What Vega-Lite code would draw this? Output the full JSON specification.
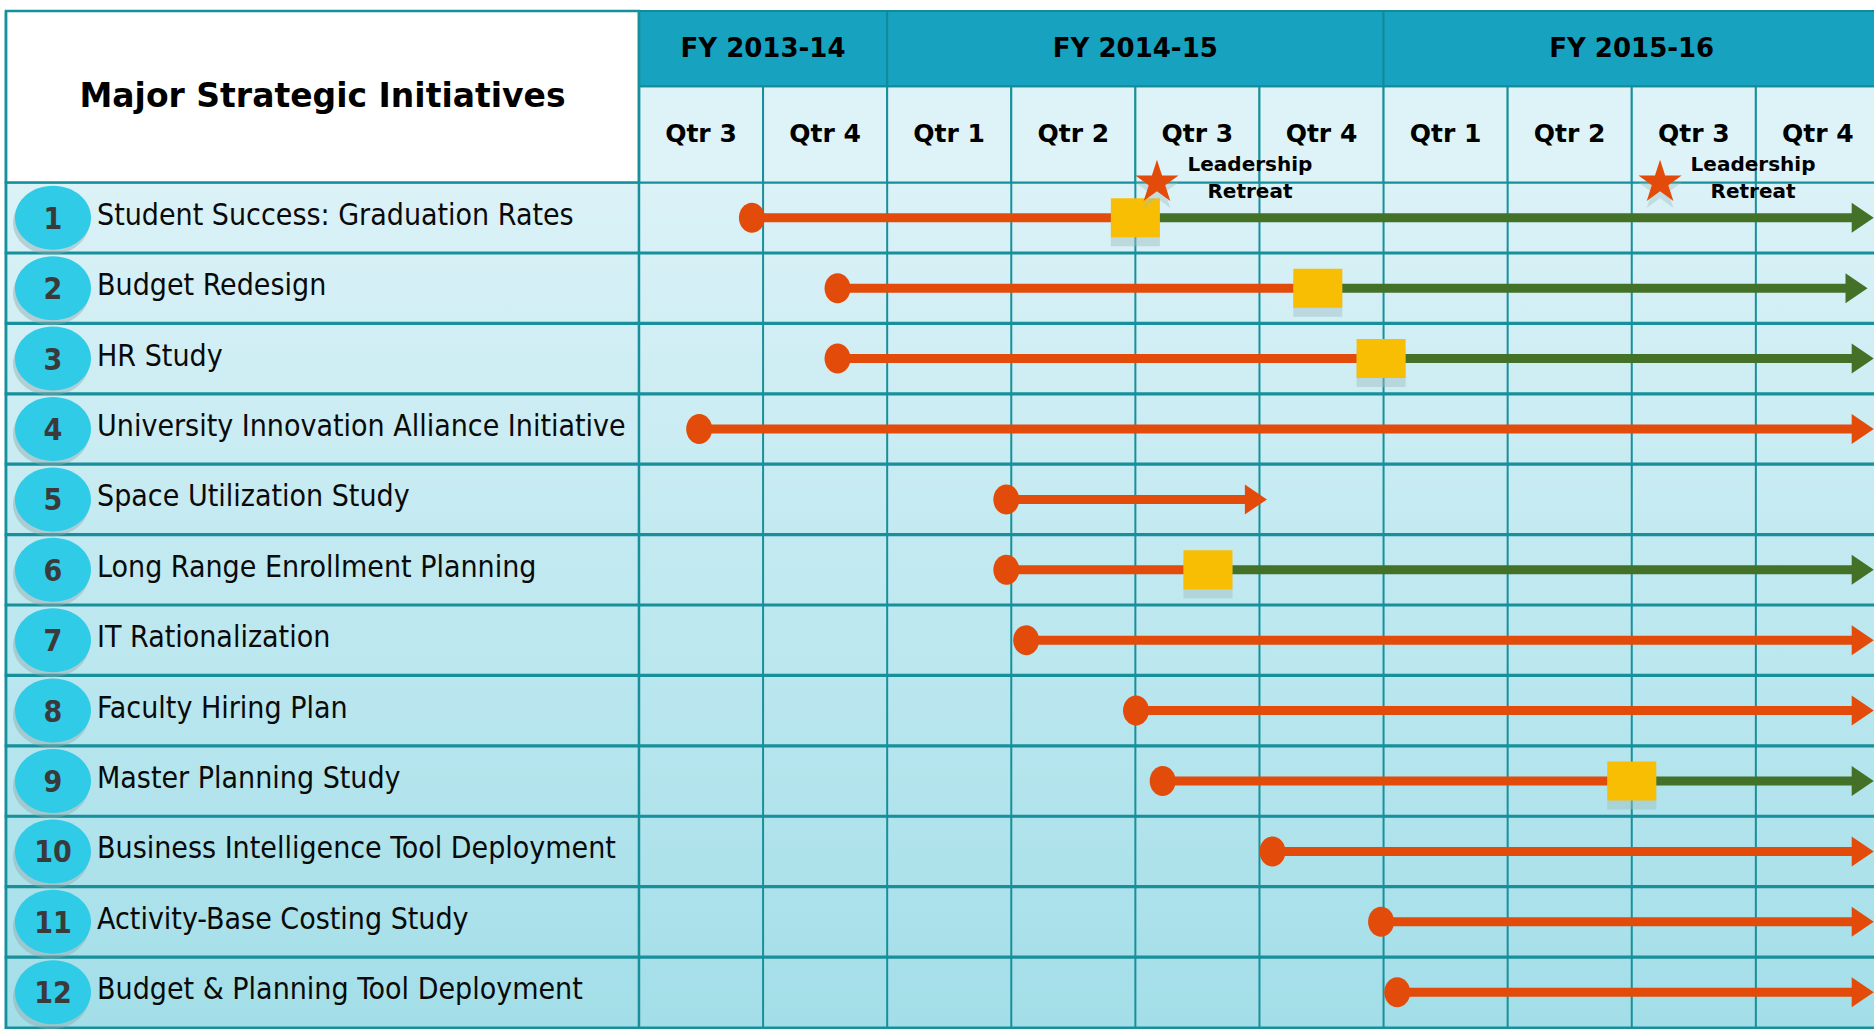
{
  "$schema": "https://vega.github.io/schema/vega-lite/v6.json",
  "width": 1874,
  "height": 1029,
  "padding": 0,
  "autosize": {"type": "none"},
  "background": "white",
  "config": {"view": {"stroke": null}},
  "datasets": {
    "initiatives": [
      {"row": 1, "name": "Student Success: Graduation Rates", "start": 0.91, "milestone": 4.0, "end": 9.95},
      {"row": 2, "name": "Budget Redesign", "start": 1.6, "milestone": 5.47, "end": 9.9},
      {"row": 3, "name": "HR Study", "start": 1.6, "milestone": 5.98, "end": 9.95},
      {"row": 4, "name": "University Innovation Alliance Initiative", "start": 0.485, "milestone": null, "end": 9.95},
      {"row": 5, "name": "Space Utilization Study", "start": 2.96, "milestone": null, "end": 5.06},
      {"row": 6, "name": "Long Range Enrollment Planning", "start": 2.96, "milestone": 4.585, "end": 9.95},
      {"row": 7, "name": "IT Rationalization", "start": 3.12, "milestone": null, "end": 9.95},
      {"row": 8, "name": "Faculty Hiring Plan", "start": 4.005, "milestone": null, "end": 9.95},
      {"row": 9, "name": "Master Planning Study", "start": 4.22, "milestone": 8.0, "end": 9.95},
      {"row": 10, "name": "Business Intelligence Tool Deployment", "start": 5.105, "milestone": null, "end": 9.95},
      {"row": 11, "name": "Activity-Base Costing Study", "start": 5.98, "milestone": null, "end": 9.95},
      {"row": 12, "name": "Budget & Planning Tool Deployment", "start": 6.11, "milestone": null, "end": 9.95}
    ],
    "quarters": [
      {"fy": "FY 2013-14", "qtr": "Qtr 3", "start": 0, "end": 1},
      {"fy": "FY 2013-14", "qtr": "Qtr 4", "start": 1, "end": 2},
      {"fy": "FY 2014-15", "qtr": "Qtr 1", "start": 2, "end": 3},
      {"fy": "FY 2014-15", "qtr": "Qtr 2", "start": 3, "end": 4},
      {"fy": "FY 2014-15", "qtr": "Qtr 3", "start": 4, "end": 5},
      {"fy": "FY 2014-15", "qtr": "Qtr 4", "start": 5, "end": 6},
      {"fy": "FY 2015-16", "qtr": "Qtr 1", "start": 6, "end": 7},
      {"fy": "FY 2015-16", "qtr": "Qtr 2", "start": 7, "end": 8},
      {"fy": "FY 2015-16", "qtr": "Qtr 3", "start": 8, "end": 9},
      {"fy": "FY 2015-16", "qtr": "Qtr 4", "start": 9, "end": 10}
    ],
    "events": [
      {"event": "Leadership Retreat", "q": 4.174},
      {"event": "Leadership Retreat", "q": 8.228}
    ]
  },
  "layer": [
    {
      "data": {"values": [{}]},
      "mark": {"type": "rect", "fill": {"gradient": "linear", "x1": 0, "y1": 0, "x2": 0, "y2": 1, "stops": [{"offset": 0, "color": "#DBF2F7"}, {"offset": 1, "color": "#A2DEE8"}]}},
      "encoding": {
        "x": {"datum": -5.101, "type": "quantitative", "scale": {"domain": [-5.149, 9.952], "nice": false, "zero": false}, "axis": null},
        "x2": {"datum": 10.2},
        "y": {"datum": 0.5, "type": "quantitative", "scale": {"domain": [-2.022, 12.451], "reverse": true, "nice": false, "zero": false}, "axis": null},
        "y2": {"datum": 12.7}
      }
    },
    {
      "data": {"name": "quarters"},
      "mark": {"type": "rule", "stroke": "#17909B", "strokeWidth": 2},
      "encoding": {
        "x": {"field": "start", "type": "quantitative"},
        "y": {"datum": 0.5, "type": "quantitative"},
        "y2": {"datum": 12.7}
      }
    },
    {
      "data": {"name": "initiatives"},
      "mark": {"type": "bar", "orient": "horizontal", "height": 71.1, "fill": "transparent", "stroke": "#17909B", "strokeWidth": 2.5},
      "encoding": {
        "x": {"datum": -5.101, "type": "quantitative"},
        "x2": {"datum": 10.2},
        "y": {"field": "row", "type": "quantitative"}
      }
    },
    {
      "data": {"name": "quarters"},
      "mark": {"type": "rect", "fill": "#DDF3F8", "stroke": "#17909B", "strokeWidth": 2},
      "encoding": {
        "x": {"field": "start", "type": "quantitative"},
        "x2": {"field": "end"},
        "y": {"datum": -0.868, "type": "quantitative"},
        "y2": {"datum": 0.5}
      }
    },
    {
      "data": {"name": "quarters"},
      "mark": {"type": "rect", "fill": "#17A3BF", "stroke": "#138A98", "strokeWidth": 2},
      "encoding": {
        "x": {"aggregate": "min", "field": "start", "type": "quantitative"},
        "x2": {"aggregate": "max", "field": "end"},
        "detail": {"field": "fy", "type": "nominal"},
        "y": {"datum": -1.937, "type": "quantitative"},
        "y2": {"datum": -0.868}
      }
    },
    {
      "data": {"values": [{}]},
      "mark": {"type": "rect", "fill": "white", "stroke": "#17909B", "strokeWidth": 2.5},
      "encoding": {
        "x": {"datum": -5.101, "type": "quantitative"},
        "x2": {"datum": 0},
        "y": {"datum": -1.937, "type": "quantitative"},
        "y2": {"datum": 0.5}
      }
    },
    {
      "data": {"values": [{}]},
      "mark": {"type": "rule", "stroke": "#17909B", "strokeWidth": 2.5},
      "encoding": {
        "x": {"datum": 0, "type": "quantitative"},
        "y": {"datum": -1.937, "type": "quantitative"},
        "y2": {"datum": 12.7}
      }
    },
    {
      "data": {"values": [{}]},
      "mark": {"type": "rule", "stroke": "#17909B", "strokeWidth": 2.5},
      "encoding": {
        "x": {"datum": -5.101, "type": "quantitative"},
        "y": {"datum": -1.937, "type": "quantitative"},
        "y2": {"datum": 12.7}
      }
    },
    {
      "data": {"values": [{"title": "Major Strategic Initiatives"}]},
      "mark": {"type": "text", "align": "center", "baseline": "middle", "font": "DejaVu Sans", "fontWeight": "bold", "fontSize": 33, "color": "#000000"},
      "encoding": {
        "x": {"datum": -2.55, "type": "quantitative"},
        "y": {"datum": -0.72, "type": "quantitative"},
        "text": {"field": "title"}
      }
    },
    {
      "data": {"name": "quarters"},
      "mark": {"type": "text", "align": "center", "baseline": "middle", "dx": 62, "font": "DejaVu Sans", "fontWeight": "bold", "fontSize": 25, "color": "#000000"},
      "encoding": {
        "x": {"field": "start", "type": "quantitative"},
        "y": {"datum": -0.184, "type": "quantitative"},
        "text": {"field": "qtr"}
      }
    },
    {
      "data": {"name": "quarters"},
      "mark": {"type": "text", "align": "center", "baseline": "middle", "dx": 62, "font": "DejaVu Sans", "fontWeight": "bold", "fontSize": 26, "color": "#000000"},
      "encoding": {
        "x": {"aggregate": "mean", "field": "start", "type": "quantitative"},
        "y": {"datum": -1.4025, "type": "quantitative"},
        "text": {"field": "fy", "type": "nominal"}
      }
    },
    {
      "data": {"name": "initiatives"},
      "mark": {"type": "point", "shape": "M -1 0 A 1 0.842 0 1 1 1 0 A 1 0.842 0 1 1 -1 0 Z", "size": 5776, "filled": true, "fill": "#8FA9AC", "opacity": 0.45, "strokeWidth": 0, "xOffset": -2, "yOffset": 5},
      "encoding": {
        "x": {"datum": -4.722, "type": "quantitative"},
        "y": {"field": "row", "type": "quantitative"}
      }
    },
    {
      "data": {"name": "initiatives"},
      "mark": {"type": "point", "shape": "M -1 0 A 1 0.842 0 1 1 1 0 A 1 0.842 0 1 1 -1 0 Z", "size": 5776, "filled": true, "fill": "#2FCBE7", "opacity": 1, "strokeWidth": 0},
      "encoding": {
        "x": {"datum": -4.722, "type": "quantitative"},
        "y": {"field": "row", "type": "quantitative"}
      }
    },
    {
      "data": {"name": "initiatives"},
      "mark": {"type": "text", "align": "center", "baseline": "middle", "dy": 2, "font": "DejaVu Sans Condensed", "fontWeight": "bold", "fontSize": 30, "color": "#3A3A3A"},
      "encoding": {
        "x": {"datum": -4.722, "type": "quantitative"},
        "y": {"field": "row", "type": "quantitative"},
        "text": {"field": "row", "type": "nominal"}
      }
    },
    {
      "data": {"name": "initiatives"},
      "mark": {"type": "text", "align": "left", "baseline": "middle", "dy": -2, "font": "DejaVu Sans Condensed", "fontSize": 30, "color": "#0A0A0A"},
      "encoding": {
        "x": {"datum": -4.367, "type": "quantitative"},
        "y": {"field": "row", "type": "quantitative"},
        "text": {"field": "name", "type": "nominal"}
      }
    },
    {
      "data": {"name": "initiatives"},
      "transform": [{"filter": "datum.milestone == null"}],
      "mark": {"type": "rule", "stroke": "#E24B0A", "strokeWidth": 9, "strokeCap": "butt", "x2Offset": -12},
      "encoding": {
        "x": {"field": "start", "type": "quantitative"},
        "x2": {"field": "end"},
        "y": {"field": "row", "type": "quantitative"}
      }
    },
    {
      "data": {"name": "initiatives"},
      "transform": [{"filter": "datum.milestone != null"}],
      "mark": {"type": "rule", "stroke": "#E24B0A", "strokeWidth": 9, "strokeCap": "butt"},
      "encoding": {
        "x": {"field": "start", "type": "quantitative"},
        "x2": {"field": "milestone"},
        "y": {"field": "row", "type": "quantitative"}
      }
    },
    {
      "data": {"name": "initiatives"},
      "transform": [{"filter": "datum.milestone != null"}],
      "mark": {"type": "rule", "stroke": "#437128", "strokeWidth": 9, "strokeCap": "butt", "x2Offset": -12},
      "encoding": {
        "x": {"field": "milestone", "type": "quantitative"},
        "x2": {"field": "end"},
        "y": {"field": "row", "type": "quantitative"}
      }
    },
    {
      "data": {"name": "initiatives"},
      "transform": [{"filter": "datum.milestone == null"}],
      "mark": {"type": "point", "shape": "M -1.47 -1 L 0 0 L -1.47 1 Z", "size": 900, "filled": true, "fill": "#E24B0A", "opacity": 1, "strokeWidth": 0},
      "encoding": {
        "x": {"field": "end", "type": "quantitative"},
        "y": {"field": "row", "type": "quantitative"}
      }
    },
    {
      "data": {"name": "initiatives"},
      "transform": [{"filter": "datum.milestone != null"}],
      "mark": {"type": "point", "shape": "M -1.47 -1 L 0 0 L -1.47 1 Z", "size": 900, "filled": true, "fill": "#437128", "opacity": 1, "strokeWidth": 0},
      "encoding": {
        "x": {"field": "end", "type": "quantitative"},
        "y": {"field": "row", "type": "quantitative"}
      }
    },
    {
      "data": {"name": "initiatives"},
      "mark": {"type": "point", "shape": "M -0.867 0 A 0.867 1 0 1 1 0.867 0 A 0.867 1 0 1 1 -0.867 0 Z", "size": 900, "filled": true, "fill": "#E24B0A", "opacity": 1, "strokeWidth": 0},
      "encoding": {
        "x": {"field": "start", "type": "quantitative"},
        "y": {"field": "row", "type": "quantitative"}
      }
    },
    {
      "data": {"name": "initiatives"},
      "transform": [{"filter": "datum.milestone != null"}],
      "mark": {"type": "point", "shape": "M -1 -0.796 L 1 -0.796 L 1 0.796 L -1 0.796 Z", "size": 2401, "filled": true, "fill": "#9DBDC0", "opacity": 0.45, "strokeWidth": 0, "yOffset": 9},
      "encoding": {
        "x": {"field": "milestone", "type": "quantitative"},
        "y": {"field": "row", "type": "quantitative"}
      }
    },
    {
      "data": {"name": "initiatives"},
      "transform": [{"filter": "datum.milestone != null"}],
      "mark": {"type": "point", "shape": "M -1 -0.796 L 1 -0.796 L 1 0.796 L -1 0.796 Z", "size": 2401, "filled": true, "fill": "#F8BE03", "opacity": 1, "strokeWidth": 0},
      "encoding": {
        "x": {"field": "milestone", "type": "quantitative"},
        "y": {"field": "row", "type": "quantitative"}
      }
    },
    {
      "data": {"name": "events"},
      "mark": {"type": "point", "shape": "M 0 -1 L 0.2245 -0.309 L 0.951 -0.309 L 0.363 0.118 L 0.588 0.809 L 0 0.382 L -0.588 0.809 L -0.363 0.118 L -0.951 -0.309 L -0.2245 -0.309 Z", "size": 2061, "filled": true, "fill": "#9DBDC0", "opacity": 0.4, "strokeWidth": 0, "yOffset": 7},
      "encoding": {
        "x": {"field": "q", "type": "quantitative"},
        "y": {"datum": 0.5, "type": "quantitative"}
      }
    },
    {
      "data": {"name": "events"},
      "mark": {"type": "point", "shape": "M 0 -1 L 0.2245 -0.309 L 0.951 -0.309 L 0.363 0.118 L 0.588 0.809 L 0 0.382 L -0.588 0.809 L -0.363 0.118 L -0.951 -0.309 L -0.2245 -0.309 Z", "size": 2061, "filled": true, "fill": "#E24B0A", "opacity": 1, "strokeWidth": 0},
      "encoding": {
        "x": {"field": "q", "type": "quantitative"},
        "y": {"datum": 0.5, "type": "quantitative"}
      }
    },
    {
      "data": {"name": "events"},
      "mark": {"type": "text", "align": "center", "baseline": "middle", "dx": 93, "dy": -18, "lineBreak": " ", "lineHeight": 27, "font": "DejaVu Sans", "fontWeight": "bold", "fontSize": 20, "color": "#000000"},
      "encoding": {
        "x": {"field": "q", "type": "quantitative"},
        "y": {"datum": 0.5, "type": "quantitative"},
        "text": {"field": "event", "type": "nominal"}
      }
    }
  ]
}
